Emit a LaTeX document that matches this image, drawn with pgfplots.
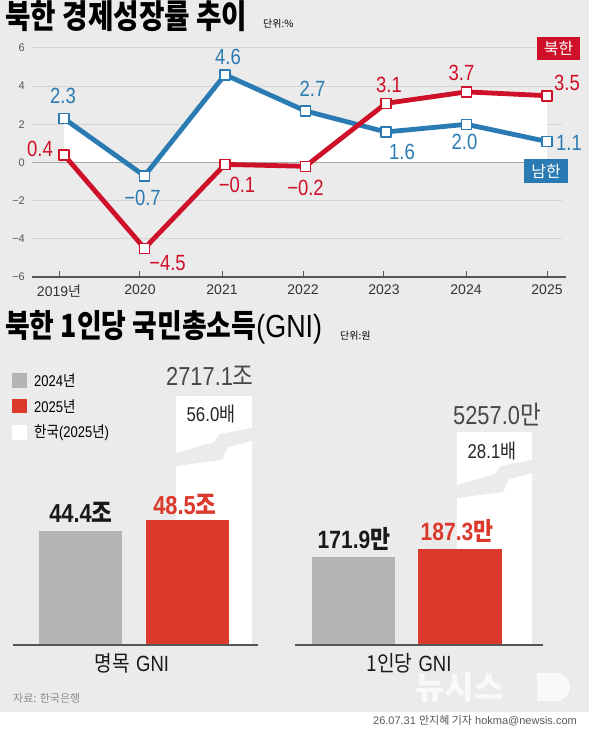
\documentclass[border=0pt]{standalone}
\usepackage{fontspec}
\usepackage{pgfplots}
\pgfplotsset{compat=1.18}
\setmainfont{Liberation Sans}
\newfontfamily\kr{Noto Sans CJK KR}
\newfontfamily\krn{Noto Sans CJK KR}[FakeStretch=0.87]
\newfontfamily\krt{Noto Sans CJK KR}[FakeStretch=0.84]
\newfontfamily\nm{Liberation Sans}[FakeStretch=0.84]
\newcommand\fs[1]{\fontsize{#1}{#1}\selectfont}
\definecolor{bg}{HTML}{EBEBEB}
\definecolor{nkred}{HTML}{CF1029}
\definecolor{skblue}{HTML}{2A7BB3}
\definecolor{bargray}{HTML}{B4B4B4}
\definecolor{barred}{HTML}{DC392D}
\definecolor{gridc}{HTML}{D4D4D4}
\definecolor{dark}{HTML}{555555}
\definecolor{zeroc}{HTML}{A8A8A8}
\tikzset{
 lb/.style={font=\nm\fs{22}, text=skblue, inner sep=0pt},
 lr/.style={font=\nm\fs{22}, text=nkred, inner sep=0pt},
}
\begin{document}
\begin{tikzpicture}[x=1pt,y=1pt]
\fill[white] (0,0) rectangle (589,730);
\fill[bg] (0,18) rectangle (589,730);

% ---------- titles ----------
\node[anchor=west, inner sep=0] at (5,714) {\krt\bfseries\fs{33}북한 경제성장률 추이};
\node[anchor=west, inner sep=0] at (263,706) {\kr\fs{10}단위:\%};
\node[anchor=west, inner sep=0] at (5,403) {\fs{32}{\krt\bfseries 북한 1인당 국민총소득}{\nm (GNI)}};
\node[anchor=west, inner sep=0] at (340,394) {\kr\fs{10}단위:원};

% ---------- growth chart ----------
\begin{axis}[
 at={(32pt,453pt)}, anchor=south west, scale only axis,
 width=530pt, height=229pt,
 xmin=2018.6025, xmax=2025.1863, ymin=-6, ymax=6,
 axis x line=bottom, axis y line=left,
 x axis line style={-, draw=dark, line width=1.2pt, shorten >=-4pt},
 y axis line style={draw=none},
 xtick={2018.938,2019.944,2020.963,2021.969,2022.975,2023.994,2025},
 xticklabels={2019{\kr 년},2020,2021,2022,2023,2024,2025},
 xtick style={draw=dark, line width=1pt},
 tick align=inside, major tick length=6pt,
 xticklabel style={font=\fs{14}, text=black!80, inner sep=0pt, anchor=north, yshift=-8pt},
 ytick={-6,-4,...,6},
 yticklabels={−6,−4,−2,0,2,4,6},
 ytick style={draw=none},
 yticklabel style={font=\fs{11}, text=dark, inner sep=0pt, anchor=east, xshift=-7pt},
 ymajorgrids, grid style={draw=gridc, line width=1pt},
 clip=false,
]
\addplot[fill=white, draw=none, forget plot] coordinates {
 (2019,0) (2019,2.3) (2019.7667,0) (2020.1321,0) (2021,4.6) (2022,2.7)
 (2022.659,1.975) (2023,3.1) (2024,3.7) (2025,3.5) (2025,0)};
\draw[zeroc, line width=1pt] (axis cs:2018.6025,0) -- (axis cs:2025.137,0);
\addplot[skblue, line width=4.8pt, line join=round, mark=square*, mark size=5pt,
 mark options={fill=white, draw=skblue, line width=1.6pt, solid}]
 coordinates {(2019,2.3) (2020,-0.7) (2021,4.6) (2022,2.7) (2023,1.6) (2024,2.0) (2025,1.1)};
\addplot[nkred, line width=4.8pt, line join=round, mark=square*, mark size=5pt,
 mark options={fill=white, draw=nkred, line width=1.6pt, solid}]
 coordinates {(2019,0.4) (2020,-4.5) (2021,-0.1) (2022,-0.2) (2023,3.1) (2024,3.7) (2025,3.5)};
% value labels (south korea)
\node[lb, xshift=-1pt, yshift=23pt] at (axis cs:2019,2.3) {2.3};
\node[lb, xshift=-2pt, yshift=-22pt] at (axis cs:2020,-0.7) {−0.7};
\node[lb, xshift=3pt, yshift=18pt] at (axis cs:2021,4.6) {4.6};
\node[lb, xshift=7pt, yshift=22pt] at (axis cs:2022,2.7) {2.7};
\node[lb, xshift=16pt, yshift=-20pt] at (axis cs:2023,1.6) {1.6};
\node[lb, xshift=-2pt, yshift=-18pt] at (axis cs:2024,2.0) {2.0};
\node[lb, xshift=22pt, yshift=-1pt] at (axis cs:2025,1.1) {1.1};
% value labels (north korea)
\node[lr, xshift=-24pt, yshift=6pt] at (axis cs:2019,0.4) {0.4};
\node[lr, xshift=23pt, yshift=-15pt] at (axis cs:2020,-4.5) {−4.5};
\node[lr, xshift=12pt, yshift=-21pt] at (axis cs:2021,-0.1) {−0.1};
\node[lr, xshift=0pt, yshift=-22pt] at (axis cs:2022,-0.2) {−0.2};
\node[lr, xshift=3pt, yshift=18pt] at (axis cs:2023,3.1) {3.1};
\node[lr, xshift=-5pt, yshift=19pt] at (axis cs:2024,3.7) {3.7};
\node[lr, xshift=20pt, yshift=13pt] at (axis cs:2025,3.5) {3.5};
\end{axis}
\node[fill=nkred, text=white, minimum width=43pt, minimum height=23pt, inner sep=0pt, font=\kr\fs{16}] at (558.5,681.5) {북한};
\node[fill=skblue, text=white, minimum width=44pt, minimum height=24pt, inner sep=0pt, font=\kr\fs{16}] at (546,559) {남한};

% ---------- legend ----------
\fill[bargray] (12,342) rectangle (27,357);
\fill[barred] (12,317) rectangle (27,331);
\fill[white] (12,290) rectangle (27,305);
\node[anchor=west, inner sep=0] at (34,349) {\fs{15.5}{\nm 2024}{\krn 년}};
\node[anchor=west, inner sep=0] at (34,323) {\fs{15.5}{\nm 2025}{\krn 년}};
\node[anchor=west, inner sep=0] at (34,297.5) {\fs{15.5}{\krn 한국}{\nm (2025}{\krn 년}{\nm )}};

% ---------- GNI (nominal) ----------
\begin{axis}[
 at={(13pt,85pt)}, anchor=south west, scale only axis,
 width=245pt, height=248pt,
 xmin=13, xmax=258, ymin=0, ymax=96.5,
 axis x line=bottom, axis y line=none,
 x axis line style={-, draw=dark, line width=1.3pt},
 xtick=\empty, ytick=\empty, axis on top,
]
\addplot[ybar, bar width=76, bar shift=0pt, fill=white, draw=none] coordinates {(214,2717.1)};
\addplot[ybar, bar width=83, bar shift=0pt, fill=bargray, draw=none] coordinates {(80.5,44.4)};
\addplot[ybar, bar width=83, bar shift=0pt, fill=barred, draw=none] coordinates {(187.5,48.5)};
\end{axis}
\fill[bg] (176,277) -- (214,288) -- (220,296) -- (252,302) -- (252,289) -- (228,283) -- (222,270) -- (176,264) -- cycle;

% ---------- GNI per capita ----------
\begin{axis}[
 at={(295pt,85pt)}, anchor=south west, scale only axis,
 width=248pt, height=212pt,
 xmin=295, xmax=543, ymin=0, ymax=414,
 axis x line=bottom, axis y line=none,
 x axis line style={-, draw=dark, line width=1.3pt},
 xtick=\empty, ytick=\empty, axis on top,
]
\addplot[ybar, bar width=75, bar shift=0pt, fill=white, draw=none] coordinates {(494.5,5257.0)};
\addplot[ybar, bar width=83, bar shift=0pt, fill=bargray, draw=none] coordinates {(353.5,171.9)};
\addplot[ybar, bar width=84, bar shift=0pt, fill=barred, draw=none] coordinates {(460,187.3)};
\end{axis}
\fill[bg] (457,245) -- (495,256) -- (501,264) -- (532,270) -- (532,257) -- (509,251) -- (503,238) -- (457,232) -- cycle;

% bar labels
\node[inner sep=0, text=black!90] at (81,218) {\fs{26}{\nm\bfseries 44.4}{\krn\bfseries 조}};
\node[inner sep=0, text=barred] at (185,226) {\fs{26}{\nm\bfseries 48.5}{\krn\bfseries 조}};
\node[inner sep=0, text=black!72] at (210,354) {\fs{26}{\nm 2717.1}{\krn 조}};
\node[inner sep=0, text=black!85] at (211,316) {\fs{20}{\nm 56.0}{\krn 배}};
\node[inner sep=0, text=black!90] at (354,191) {\fs{25}{\nm\bfseries 171.9}{\krn\bfseries 만}};
\node[inner sep=0, text=barred] at (457,199) {\fs{25}{\nm\bfseries 187.3}{\krn\bfseries 만}};
\node[inner sep=0, text=black!72] at (497,315) {\fs{26}{\nm 5257.0}{\krn 만}};
\node[inner sep=0, text=black!85] at (492,279) {\fs{20}{\nm 28.1}{\krn 배}};

% category labels
\node[inner sep=0, text=black!90] at (132,67) {\fs{22}{\krn 명목} {\nm GNI}};
\node[inner sep=0, text=black!90] at (409,67) {\fs{22}{\krn 1인당} {\nm GNI}};

% watermark
\node[anchor=west, inner sep=0, text=white, opacity=0.75] at (415,42) {\kr\bfseries\fs{32}뉴시스};
\fill[white, opacity=0.75] (537,29) -- (556,29) arc[start angle=-90, end angle=90, radius=14] -- (537,57) -- cycle;

% source and footer
\node[anchor=west, inner sep=0, text=black!45] at (13,32) {\kr\fs{11}자료: 한국은행};
\node[anchor=east, inner sep=0, text=black!65] at (577,9) {\fs{11}26.07.31 {\kr 안지혜 기자} hokma@newsis.com};
\end{tikzpicture}
\end{document}
